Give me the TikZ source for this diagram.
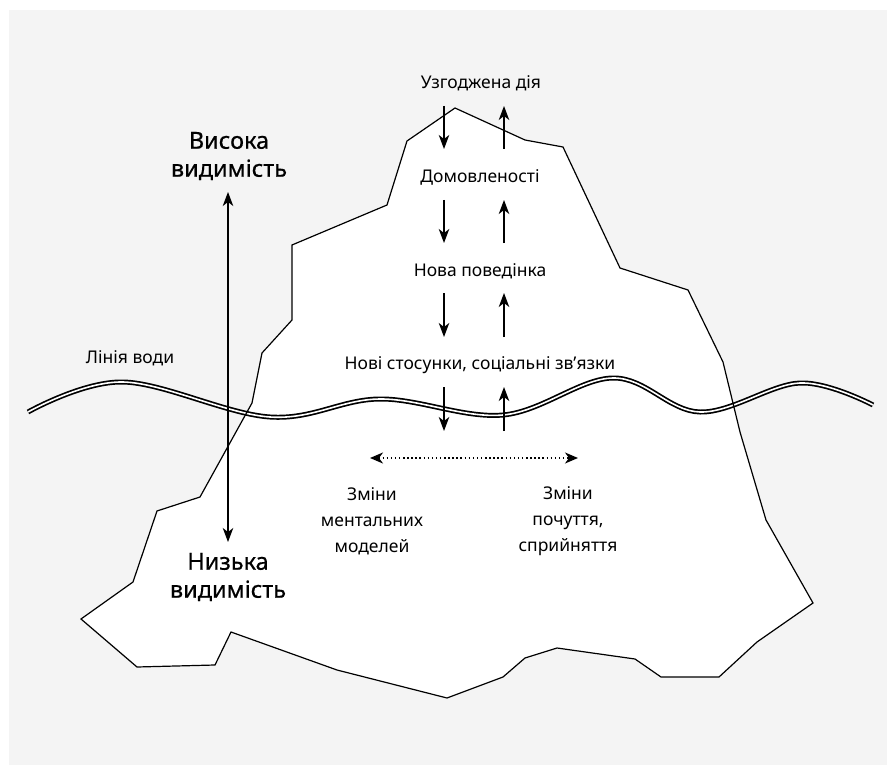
\documentclass[tikz,border=0pt]{standalone}
\usepackage{fontspec}
\setmainfont{Noto Sans}
\newfontfamily\headfont[FakeBold=0.5]{Noto Sans}
\usetikzlibrary{arrows.meta}
\definecolor{paper}{HTML}{F4F4F4}
\tikzset{
  small/.style={font=\fontsize{17.5}{26}\selectfont, inner sep=0pt, align=center},
  big/.style={font=\headfont\fontsize{23.5}{28}\selectfont, inner sep=0pt, align=center},
  flow/.style={line width=1.2pt, -{Stealth[length=14pt,width=10.5pt,inset=4pt]}},
  span/.style={line width=1.2pt, {Stealth[length=14pt,width=10.5pt,inset=4pt]}-{Stealth[length=14pt,width=10.5pt,inset=4pt]}},
  swap line/.style={line width=1.5pt, dash pattern=on 1.5pt off 2.6pt,
    {Stealth[length=13pt,width=11pt,inset=4pt]}-{Stealth[length=13pt,width=11pt,inset=4pt]}},
  berg/.style={line width=1.2pt, line join=miter},
  water/.style={line width=1.7pt, double=white, double distance=1.6pt},
}
\begin{document}
\begin{tikzpicture}[x=1pt, y=-1pt]
\useasboundingbox (0,0) rectangle (887,765);
\fill[paper] (9,10) rectangle (887,765);

% iceberg body
\def\berg{(455,108) -- (525,140) -- (563,147) -- (620,268) -- (688,290) -- (723,362)
  -- (740,432) -- (766,520) -- (813,603) -- (757,642) -- (719,677) -- (661,677)
  -- (635,659) -- (557,648) -- (525,658) -- (503,677) -- (447,698) -- (337,670)
  -- (231,632) -- (215,665) -- (137,667) -- (81,619) -- (133,582) -- (157,511)
  -- (200,497) -- (252,403) -- (262,353) -- (292,320) -- (292,245) -- (387,205)
  -- (407,141) -- cycle}
\fill[white] \berg;

% water line
\draw[water] plot[smooth, tension=0.6] coordinates {(28,412) (123,382) (270,417) (380,399)
  (503,415) (613,378) (700,412) (800,383) (873,405)};

\draw[berg] \berg;

% labels
\node[small] (action) at (481,83) {Узгоджена дія};
\node[small] (agree) at (480,177) {Домовленості};
\node[small] (behav) at (480,271) {Нова поведінка};
\node[small] (social) at (480,365) {Нові стосунки, соціальні зв’язки};
\node[small] (water) at (130,358) {Лінія води};
\node[small] (mental) at (372,521) {Зміни\\ментальних\\моделей};
\node[small] (feel) at (568,521) {Зміни\\почуття,\\сприйняття};
\node[big] (high) at (229,156) {Висока\\видимість};
\node[big] (low) at (228,577) {Низька\\видимість};

% flow arrows between levels
\foreach \n/\a/\b in {1/106/149, 2/200/243, 3/293/337, 4/387/431}{
  \coordinate (d\n a) at (444,\a);
  \coordinate (d\n b) at (444,\b);
  \coordinate (u\n a) at (504,\b);
  \coordinate (u\n b) at (504,\a);
  \draw[flow] (d\n a) -- (d\n b);
  \draw[flow] (u\n a) -- (u\n b);
}

% visibility scale
\coordinate (vtop) at (228,192);
\coordinate (vbot) at (228,542);
\draw[span] (vtop) -- (vbot);

% exchange between mental models and perception
\coordinate (xl) at (370,458);
\coordinate (xr) at (578,458);
\draw[swap line] (xl) -- (xr);
\end{tikzpicture}
\end{document}
